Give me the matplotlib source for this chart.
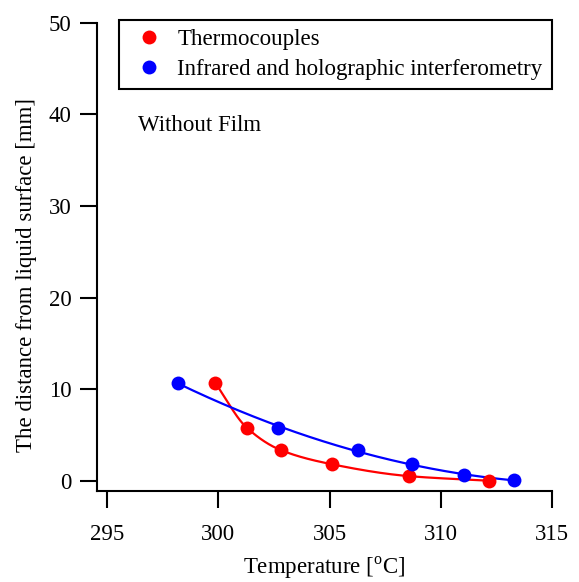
import numpy as np
import matplotlib
matplotlib.use("Agg")
import matplotlib.pyplot as plt
from matplotlib.lines import Line2D

plt.rcParams['font.family'] = ['Liberation Serif', 'DejaVu Serif']

# Data
tc_temp = [299.85, 301.27, 302.80, 305.10, 308.58, 312.18]
tc_dist = [10.7, 5.8, 3.35, 1.8, 0.5, 0.0]
ir_temp = [298.16, 302.67, 306.30, 308.70, 311.07, 313.32]
ir_dist = [10.7, 5.8, 3.35, 1.8, 0.6, 0.05]
xticks = [295, 300, 305, 310, 315]
yticks = [0, 10, 20, 30, 40, 50]

def pchip(x, y, xs):
    x = np.asarray(x, float); y = np.asarray(y, float)
    h = np.diff(x); d = np.diff(y) / h
    n = len(x); m = np.zeros(n)
    for k in range(1, n - 1):
        if d[k-1] * d[k] > 0:
            w1 = 2*h[k] + h[k-1]; w2 = h[k] + 2*h[k-1]
            m[k] = (w1 + w2) / (w1/d[k-1] + w2/d[k])
    m[0] = d[0]; m[-1] = d[-1]
    out = np.empty_like(xs)
    for i, xv in enumerate(xs):
        k = min(max(np.searchsorted(x, xv) - 1, 0), n - 2)
        t = (xv - x[k]) / h[k]
        h00 = 2*t**3 - 3*t**2 + 1; h10 = t**3 - 2*t**2 + t
        h01 = -2*t**3 + 3*t**2; h11 = t**3 - t**2
        out[i] = h00*y[k] + h10*h[k]*m[k] + h01*y[k+1] + h11*h[k]*m[k+1]
    return out

FS = 16.5
fig = plt.figure(figsize=(5.79, 5.82), dpi=100)
ax = fig.add_axes([0.1670, 0.1564, 0.7858, 0.8046])

red = '#ff0000'
blue = '#0000ff'

xs_r = np.linspace(tc_temp[0], tc_temp[-1], 200)
ax.plot(xs_r, pchip(tc_temp, tc_dist, xs_r), color=red, lw=1.6, zorder=2)
# blue: smooth quadratic fit from the data
c = np.polyfit(ir_temp, ir_dist, 2)
xs_b = np.linspace(ir_temp[0], ir_temp[-1], 200)
ax.plot(xs_b, np.polyval(c, xs_b), color=blue, lw=1.6, zorder=2)

ax.plot(tc_temp, tc_dist, 'o', color=red, ms=10, mec='none', zorder=3)
ax.plot(ir_temp, ir_dist, 'o', color=blue, ms=10, mec='none', zorder=3)

ax.set_xlim(294.52, 315.0)
ax.set_ylim(-1.12, 50.0)
ax.set_xticks(xticks)
ax.set_yticks(yticks)
for s in ['top', 'right']:
    ax.spines[s].set_visible(False)
for s in ['left', 'bottom']:
    ax.spines[s].set_linewidth(1.5)
ax.tick_params(direction='out', length=12, width=1.5, labelsize=FS)
ax.tick_params(axis='x', pad=12)
ax.tick_params(axis='y', pad=6)

ax.set_xlabel('Temperature [$^{\\mathregular{o}}$C]', fontsize=FS, labelpad=7)
ax.set_ylabel('The distance from liquid surface [mm]', fontsize=FS)
ax.yaxis.set_label_coords(-0.132, 0.462)

handles = [Line2D([], [], ls='none', marker='o', color=red, ms=10, mec='none'),
           Line2D([], [], ls='none', marker='o', color=blue, ms=10, mec='none')]
leg = ax.legend(handles, ['Thermocouples', 'Infrared and holographic interferometry'],
                loc='upper right', bbox_to_anchor=(1.0, 1.006), fontsize=FS,
                frameon=True, fancybox=False, framealpha=1, edgecolor='black',
                handletextpad=0.31, borderpad=0.4, labelspacing=0.38,
                handlelength=1.82, borderaxespad=0.0)
leg.get_frame().set_linewidth(1.5)

ax.text(0.091, 0.78, 'Without Film', transform=ax.transAxes, fontsize=FS,
        va='center', ha='left')

fig.savefig('out.png', dpi=100)
